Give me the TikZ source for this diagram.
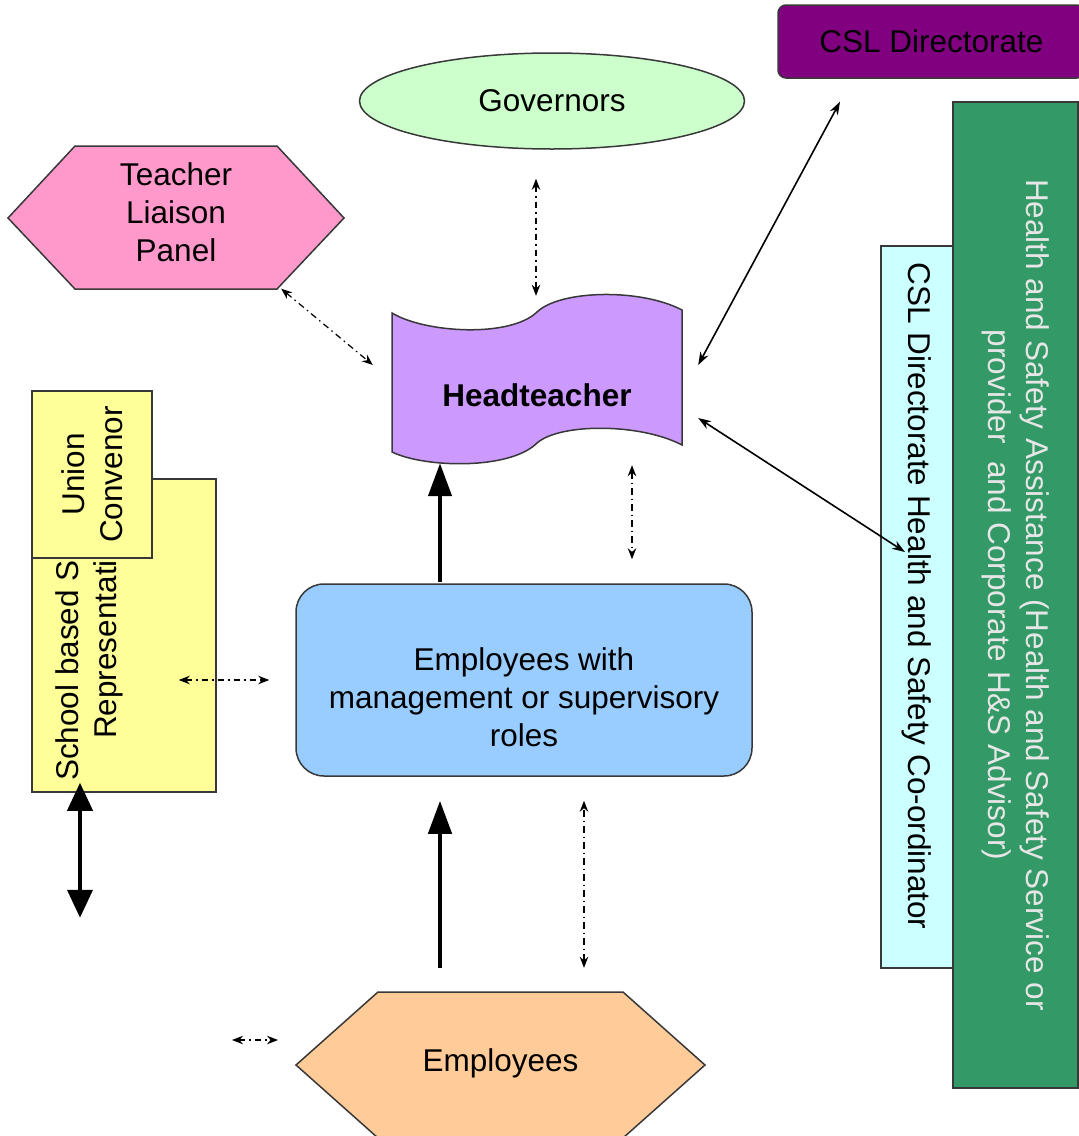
\documentclass[tikz,border=0pt]{standalone}
\usepackage{fontspec}
\setmainfont{Liberation Sans}
\usepackage{xcolor}
\usetikzlibrary{shapes, arrows.meta, positioning}

\definecolor{edgegray}{HTML}{383838}
\definecolor{cslpurple}{HTML}{800080}
\definecolor{govgreen}{HTML}{CCFFCC}
\definecolor{tlppink}{HTML}{FF99CC}
\definecolor{headviolet}{HTML}{CC99FF}
\definecolor{unionyellow}{HTML}{FFFF99}
\definecolor{mgrblue}{HTML}{99CCFF}
\definecolor{empsand}{HTML}{FFCC99}
\definecolor{cslcyan}{HTML}{CCFFFF}
\definecolor{hsagreen}{HTML}{339966}
\definecolor{hsatext}{HTML}{E6E6E6}

\begin{document}
\begin{tikzpicture}[
    x=1pt, y=-1pt,
    every node/.style={align=center, font=\fontsize{31.5}{38}\selectfont, text=black},
    box/.style={draw=edgegray, line width=1.5pt, inner sep=0pt},
    shapeline/.style={draw=edgegray, line width=1.5pt, line join=miter},
    dashlink/.style={draw, line width=1.2pt, dash pattern=on 6.5pt off 4pt on 1.5pt off 4pt,
      {Stealth[length=11pt,width=8.5pt]}-{Stealth[length=11pt,width=8.5pt]}},
    thicklink/.style={draw, line width=4.5pt, -{Triangle[length=33pt,width=23pt]}},
    thickboth/.style={draw, line width=4pt, {Triangle[length=28pt,width=25pt]}-{Triangle[length=28pt,width=25pt]}},
    thinlink/.style={draw, line width=1.6pt, {Stealth[length=13pt,width=9pt]}-{Stealth[length=13pt,width=9pt]}}
  ]
  \useasboundingbox (0,0) rectangle (1079,1136);

  \filldraw[shapeline, fill=tlppink] (8,218) -- (75,146) -- (277,146) -- (344,218) -- (277,289) -- (75,289) -- cycle;
  \filldraw[shapeline, fill=empsand] (296,1065) -- (378,992) -- (623,992) -- (705,1065) -- (623,1138) -- (378,1138) -- cycle;
  \filldraw[shapeline, fill=headviolet] (392,313) .. controls (425,333) and (510,338) .. (537,312)
    .. controls (560,290) and (640,288) .. (682,310) -- (682,445)
    .. controls (640,423) and (560,423) .. (537,443)
    .. controls (510,470) and (425,468) .. (392,452) -- cycle;

  \node[box, fill=cslpurple, rounded corners=8pt, minimum width=307pt, minimum height=73pt] (csl) at (931.5,41.5) {CSL Directorate};
  \node[box, ellipse, fill=govgreen, minimum width=385pt, minimum height=96pt] (gov) at (552,101) {Governors};
  \node[minimum width=202pt, minimum height=143pt] (tlp) at (176,212) {Teacher\\Liaison\\Panel};
  \node[minimum width=290pt, minimum height=140pt] (head) at (537,395) {\bfseries Headteacher};

  \node[box, fill=unionyellow, minimum width=184pt, minimum height=313pt] (school) at (124,635.5) {};
  \node[rotate=90, anchor=east, align=right, inner sep=0pt] (schooltxt) at (89,560) {School based S\\Representati};
  \node[box, fill=unionyellow, rotate=90, minimum width=167pt, minimum height=120pt] (union) at (92,474.5) {Union\\Convenor};

  \node[box, fill=mgrblue, rounded corners=28pt, minimum width=456pt, minimum height=192pt] (mgr) at (524,680) {};
  \node (mgrtxt) at (524,697) {Employees with\\management or supervisory\\roles};
  \node[minimum width=245pt, minimum height=146pt] (emp) at (500.5,1063) {Employees};

  \node[box, fill=cslcyan, rotate=-90, minimum width=722pt, minimum height=72pt] (cslhs) at (917,607)
    {CSL Directorate Health and Safety Co-ordinator\hspace*{22pt}};
  \node[box, fill=hsagreen, text=hsatext, rotate=-90, minimum width=986pt, minimum height=125pt] (hsa) at (1015.5,595)
    {Health and Safety Assistance (Health and Safety Service or\\provider\ \ and Corporate H\&S Advisor)};

  \draw[dashlink] ([shift={(-16,29)}]gov.south) -- ([shift={(-1,-29)}]head.north);
  \draw[dashlink] ([shift={(4,5)}]tlp.south east) -- ([shift={(-19,-30)}]head.west);
  \draw[thinlink] ([shift={(-91.5,23)}]csl.south) -- ([shift={(16,-30)}]head.east);
  \draw[thinlink] ([shift={(-12,-55)}]cslhs.center) -- ([shift={(16,23)}]head.east);
  \draw[thicklink] ([shift={(-84,-1)}]mgr.north) -- ([shift={(-97,-2)}]head.south);
  \draw[dashlink] ([shift={(95,0)}]head.south) -- ([shift={(108,-24)}]mgr.north);
  \draw[dashlink] ([shift={(-38,44.5)}]school.east) -- ([shift={(-26,0)}]mgr.west);
  \draw[thicklink] ([shift={(-60.5,-22)}]emp.north) -- ([shift={(-84,24)}]mgr.south);
  \draw[dashlink] ([shift={(83.5,-22)}]emp.north) -- ([shift={(60,24)}]mgr.south);
  \draw[dashlink] ([shift={(-268.5,-23)}]emp.center) -- ([shift={(-222.5,-23)}]emp.center);
  \draw[thickboth] ([shift={(-44,-10)}]school.south) -- ([shift={(-44,125)}]school.south);
\end{tikzpicture}
\end{document}
